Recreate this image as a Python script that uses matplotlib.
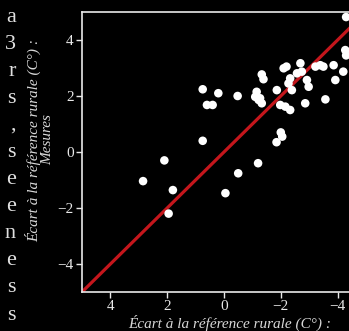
import matplotlib
matplotlib.use('Agg')
import matplotlib.pyplot as plt
import numpy as np

# values
xs = [-4.3, -4.27, -4.3, -4.2, -3.86, -3.92, -3.57, -3.22, -3.39, -3.5,
      -2.69, -2.57, -2.74, -2.92, -2.98, -2.86, -2.1, -2.2, -2.33, -2.27,
      -2.39, -1.86, -1.98, -2.16, -2.33, -1.33, -1.39, -1.15, -1.1, -1.27,
      -1.33, -1.22, -0.48, 0.2, 0.75, 0.6, 0.4, 0.75, -2.0, -2.05,
      -1.85, -1.2, 2.1, -0.5, 2.85, 1.8, -0.05, 1.95]
ys = [4.82, 3.64, 3.45, 2.87, 3.1, 2.57, 1.88, 3.05, 3.1, 3.05,
      3.17, 2.81, 2.87, 2.57, 2.33, 1.74, 2.99, 3.05, 2.63, 2.45,
      2.21, 2.21, 1.68, 1.62, 1.5, 2.77, 2.6, 2.15, 1.97, 1.92,
      1.74, 1.86, 2.0, 2.1, 2.24, 1.68, 1.68, 0.4, 0.7, 0.55,
      0.35, -0.4, -0.3, -0.76, -1.04, -1.36, -1.47, -2.2]

ref_x = [5, -5]
ref_y = [-5, 5]

ticks = [4, 2, 0, -2, -4]
xlabel = 'Écart à la référence rurale (C°) :'
ylabel = 'Écart à la référence rurale (C°) :\nMesures'

# ends of a cut-off paragraph on the left
side_letters = ['a', '3', 'r', 's', ',', 's', 'e', 'e', 'n', 'e', 's', 's']

W, H = 349, 331
fig = plt.figure(figsize=(W/100, H/100), dpi=100, facecolor='black')

ax = fig.add_axes([82/W, (H-292)/H, 284/W, 280/H])
ax.set_facecolor('black')

ax.plot(ref_x, ref_y, color='#c4161c', lw=2.3, zorder=2, solid_capstyle='butt')
ax.scatter(xs, ys, s=38, color='white', edgecolors='none', zorder=3)

ax.set_xlim(5, -5)
ax.set_ylim(-5, 5)
ax.set_xticks(ticks)
ax.set_yticks(ticks)

for s in ax.spines.values():
    s.set_color('#e8e8e8')
    s.set_linewidth(1.2)

ax.tick_params(colors='#e8e8e8', length=4, width=1, labelsize=11, pad=2)
for lab in ax.get_xticklabels() + ax.get_yticklabels():
    lab.set_family('Liberation Serif')

fig.text(230/W, 1-323/H, xlabel, color='#d8d8d8', ha='center', va='center',
         family='Liberation Serif', style='italic', fontsize=11)
fig.text(40/W, 1-140/H, ylabel, color='#d8d8d8', ha='center', va='center',
         family='Liberation Serif', style='italic', fontsize=11, rotation=90,
         multialignment='center', linespacing=1.0)

for i, ch in enumerate(side_letters):
    fig.text(16/W, 1-(17+27.1*i)/H, ch, color='#e0e0e0', ha='right', va='center',
             family='Liberation Serif', fontsize=16)

plt.savefig('out.png', dpi=100, facecolor='black')
